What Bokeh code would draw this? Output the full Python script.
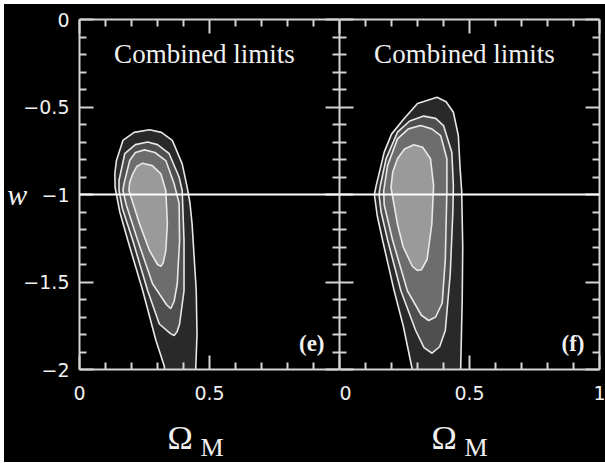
from bokeh.plotting import figure
from bokeh.models import LinearAxis, FixedTicker, Span, Label, Range1d
from bokeh.layouts import row, column
from bokeh.embed import file_html
from bokeh.resources import INLINE

# ---------------- data ----------------
x_major = [0, 0.5, 1]
x_minor = [0.1, 0.2, 0.3, 0.4, 0.6, 0.7, 0.8, 0.9]
x_tick_labels = ["0", "0.5", "1"]
y_major = [-2, -1.5, -1, -0.5, 0]
y_minor = [-1.9, -1.8, -1.7, -1.6, -1.4, -1.3, -1.2, -1.1, -0.9, -0.8, -0.7, -0.6, -0.4, -0.3, -0.2, -0.1]
y_tick_labels = ["\u22122", "\u22121.5", "\u22121", "\u22120.5", "0"]
w_reference = -1.0
panel_title = "Combined limits"
panel_tags = ["(e)", "(f)"]
x_title = "\u03a9"
x_title_sub = "M"
y_title = "w"

# panel (e): confidence contours, outermost to innermost (Omega_M, w)
e1_om = [0.335, 0.326, 0.294, 0.243, 0.186, 0.155, 0.137, 0.136, 0.142, 0.167, 0.21, 0.269, 0.315, 0.357, 0.395, 0.414, 0.425, 0.433, 0.449, 0.452, 0.447, 0.445]
e1_w = [-2.15, -1.98, -1.834, -1.549, -1.263, -1.10, -0.96, -0.88, -0.806, -0.691, -0.645, -0.63, -0.645, -0.691, -0.825, -0.958, -1.05, -1.168, -1.549, -1.80, -2.0, -2.15]
e2_om = [0.262, 0.30, 0.345, 0.383, 0.395, 0.402, 0.402, 0.385, 0.375, 0.364, 0.35, 0.307, 0.262, 0.205, 0.165, 0.152, 0.152, 0.174, 0.215]
e2_w = [-0.70, -0.715, -0.767, -0.90, -0.977, -1.263, -1.549, -1.74, -1.785, -1.806, -1.795, -1.74, -1.549, -1.263, -1.08, -0.977, -0.92, -0.767, -0.715]
e3_om = [0.25, 0.29, 0.332, 0.364, 0.383, 0.385, 0.376, 0.364, 0.351, 0.335, 0.281, 0.224, 0.18, 0.167, 0.171, 0.193, 0.215]
e3_w = [-0.745, -0.76, -0.806, -0.939, -1.05, -1.263, -1.51, -1.61, -1.653, -1.63, -1.51, -1.263, -1.06, -0.977, -0.939, -0.806, -0.76]
e4_om = [0.243, 0.28, 0.313, 0.332, 0.338, 0.332, 0.322, 0.313, 0.30, 0.269, 0.231, 0.19, 0.193, 0.205, 0.22]
e4_w = [-0.821, -0.835, -0.882, -0.977, -1.168, -1.32, -1.39, -1.411, -1.40, -1.32, -1.168, -0.977, -0.93, -0.882, -0.84]

# panel (f)
f1_om = [0.285, 0.28, 0.245, 0.21, 0.166, 0.145, 0.134, 0.141, 0.172, 0.20, 0.248, 0.30, 0.375, 0.41, 0.438, 0.457, 0.464, 0.47, 0.474, 0.472, 0.466, 0.465]
f1_w = [-2.15, -2.0, -1.75, -1.549, -1.263, -1.12, -1.0, -0.949, -0.758, -0.655, -0.567, -0.48, -0.444, -0.47, -0.53, -0.663, -0.853, -0.98, -1.3, -1.6, -2.0, -2.15]
f2_om = [0.324, 0.37, 0.40, 0.432, 0.438, 0.436, 0.426, 0.407, 0.385, 0.356, 0.325, 0.293, 0.236, 0.185, 0.16, 0.152, 0.157, 0.179, 0.223, 0.27]
f2_w = [-0.552, -0.565, -0.606, -0.758, -0.949, -1.1, -1.453, -1.777, -1.87, -1.907, -1.875, -1.777, -1.55, -1.26, -1.10, -1.0, -0.95, -0.796, -0.644, -0.58]
f3_om = [0.312, 0.355, 0.389, 0.413, 0.413, 0.407, 0.395, 0.37, 0.343, 0.315, 0.261, 0.204, 0.172, 0.17, 0.185, 0.223, 0.265]
f3_w = [-0.606, -0.625, -0.663, -0.796, -0.98, -1.37, -1.62, -1.70, -1.72, -1.69, -1.55, -1.26, -1.06, -0.98, -0.834, -0.682, -0.625]
f4_om = [0.286, 0.32, 0.35, 0.362, 0.355, 0.337, 0.315, 0.299, 0.28, 0.245, 0.223, 0.198, 0.205, 0.223, 0.25]
f4_w = [-0.716, -0.73, -0.796, -0.949, -1.17, -1.37, -1.43, -1.434, -1.41, -1.3, -1.17, -0.96, -0.87, -0.796, -0.74]

# ---------------- style ----------------
FILLS = ["#292929", "#4f4f4f", "#6d6d6d", "#9a9a9a"]
LINE = "#e8e8e8"
AX = "#d4d4d4"
TXT = "#f0f0f0"
SANS = "DejaVu Sans"
SERIF = "Liberation Serif"
BG = {"background-color": "black"}
FW = 260


def style_axis(ax, major, minor, overrides=None):
    ax.ticker = FixedTicker(ticks=major, minor_ticks=minor)
    ax.axis_line_color = AX
    ax.axis_line_width = 2
    ax.major_tick_line_color = AX
    ax.major_tick_line_width = 2
    ax.minor_tick_line_color = AX
    ax.minor_tick_line_width = 2
    ax.major_tick_in = 14
    ax.major_tick_out = 0
    ax.minor_tick_in = 7
    ax.minor_tick_out = 0
    if overrides is None:
        ax.major_label_text_font_size = "0px"
        ax.major_label_text_color = None
        ax.major_label_standoff = 0
    else:
        ax.major_label_overrides = overrides
        ax.major_label_text_font = SANS
        ax.major_label_text_font_size = "19px"
        ax.major_label_text_color = TXT


def make_panel(contours, tag, first):
    p = figure(frame_width=FW, frame_height=350,
               x_range=Range1d(0, 1), y_range=Range1d(-2, 0),
               x_axis_location=None, y_axis_location=None,
               output_backend="svg", toolbar_location=None,
               min_border_left=72 if first else 0, min_border_right=0 if first else 8,
               min_border_top=15, min_border_bottom=40,
               background_fill_color="black", border_fill_color="black",
               outline_line_color=None)
    p.xgrid.visible = False
    p.ygrid.visible = False

    for (om, w), fc in zip(contours, FILLS):
        p.patch(om, w, fill_color=fc, line_color=LINE, line_width=1.6)

    p.add_layout(Span(location=w_reference, dimension="width",
                      line_color="white", line_width=2))

    xlab = dict(zip(x_major, x_tick_labels))
    if first:
        xlab[x_major[-1]] = ""
    bottom = LinearAxis()
    style_axis(bottom, x_major, x_minor, xlab)
    bottom.major_label_standoff = 16
    p.add_layout(bottom, "below")

    top = LinearAxis()
    style_axis(top, x_major, x_minor)
    p.add_layout(top, "above")

    left = LinearAxis()
    if first:
        style_axis(left, y_major, y_minor, dict(zip(y_major, y_tick_labels)))
        left.major_label_standoff = 10
        left.axis_label = y_title
        left.axis_label_orientation = "horizontal"
        left.axis_label_text_font = SERIF
        left.axis_label_text_font_style = "italic"
        left.axis_label_text_font_size = "30px"
        left.axis_label_text_color = TXT
        left.axis_label_standoff = -7
    else:
        style_axis(left, y_major, y_minor)
    p.add_layout(left, "left")

    right = LinearAxis()
    style_axis(right, y_major, y_minor)
    p.add_layout(right, "right")

    p.add_layout(Label(x=125, y=316, x_units="screen", y_units="screen",
                       text=panel_title, text_align="center", text_baseline="middle",
                       text_font=SERIF, text_font_size="27px", text_color=TXT))
    p.add_layout(Label(x=245, y=26, x_units="screen", y_units="screen",
                       text=tag, text_align="right", text_baseline="middle",
                       text_font=SERIF, text_font_style="bold",
                       text_font_size="23px", text_color=TXT))
    return p


def make_title_strip(width, ox):
    q = figure(width=width, height=53, x_range=Range1d(0, 1), y_range=Range1d(0, 1),
               x_axis_location=None, y_axis_location=None,
               output_backend="svg", toolbar_location=None, min_border=0,
               background_fill_color="black", border_fill_color="black",
               outline_line_color=None)
    q.xgrid.visible = False
    q.ygrid.visible = False
    q.add_layout(Label(x=ox, y=25, x_units="screen", y_units="screen",
                       text=x_title, text_align="left", text_baseline="middle",
                       text_font=SERIF, text_font_size="34px", text_color=TXT))
    q.add_layout(Label(x=ox + 33, y=15, x_units="screen", y_units="screen",
                       text=x_title_sub, text_align="left", text_baseline="middle",
                       text_font=SERIF, text_font_size="26px", text_color=TXT))
    return q


p1 = make_panel([(e1_om, e1_w), (e2_om, e2_w), (e3_om, e3_w), (e4_om, e4_w)], panel_tags[0], True)
p2 = make_panel([(f1_om, f1_w), (f2_om, f2_w), (f3_om, f3_w), (f4_om, f4_w)], panel_tags[1], False)
q1 = make_title_strip(72 + FW, 163)
q2 = make_title_strip(FW + 8, 95)

layout = column(row(p1, p2, styles=BG), row(q1, q2, styles=BG), styles=BG, margin=(4, 0, 0, 4))
open("out.html", "w").write(file_html(layout, INLINE))
